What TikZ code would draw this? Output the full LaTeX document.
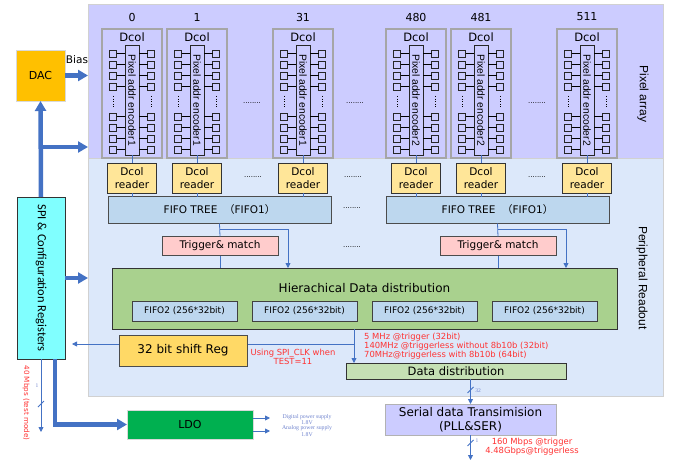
\documentclass[tikz,border=0pt]{standalone}
\usepackage{fontspec}
\setmainfont{DejaVu Sans}
\newfontfamily\calib{Carlito}
\newfontfamily\arialf{Liberation Sans}
\newfontfamily\timesf{Liberation Serif}
\newfontfamily\cjk{Noto Sans CJK SC}
\usetikzlibrary{arrows.meta,positioning}
\newcommand{\fsz}[2]{\fontsize{#1}{#2}\selectfont}
\definecolor{lineblue}{RGB}{68,114,196}
\definecolor{pixbg}{RGB}{204,204,255}
\definecolor{perbg}{RGB}{220,232,250}
\definecolor{readeryellow}{RGB}{255,230,153}
\definecolor{fifoblue}{RGB}{189,215,238}
\definecolor{trigpink}{RGB}{255,204,204}
\definecolor{hdgreen}{RGB}{169,209,142}
\definecolor{ddgreen}{RGB}{197,224,180}
\definecolor{shiftgold}{RGB}{255,217,102}
\definecolor{dacorange}{RGB}{255,192,0}
\definecolor{spicyan}{RGB}{128,255,255}
\definecolor{ldogreen}{RGB}{0,176,80}
\definecolor{notered}{RGB}{255,51,51}
\definecolor{supplyblue}{RGB}{110,130,205}

\begin{document}
\begin{tikzpicture}[x=1pt, y=-1pt,
    blk/.style={draw=black!80, inner sep=0pt, outer sep=0pt, align=center, line width=0.8pt},
    region/.style={draw=black!18, inner sep=0pt, outer sep=0pt, line width=1pt},
    dcolbox/.style={draw=black!35, line width=1.1pt, inner sep=0pt, outer sep=0pt, minimum width=60pt, minimum height=129pt},
    enc/.style={draw=black!85, line width=0.6pt, inner sep=0pt, outer sep=0pt, minimum width=14pt, minimum height=110pt},
    pixsq/.style={draw=black!85, line width=0.6pt, inner sep=0pt, outer sep=0pt, minimum size=7pt},
    reader/.style={blk, fill=readeryellow, minimum width=49pt, minimum height=30pt, font=\fsz{10.5}{12.5}},
    fifotree/.style={blk, draw=black!70, fill=fifoblue, minimum width=223pt, minimum height=27pt, font=\fsz{10.5}{12}},
    trig/.style={blk, draw=black!70, fill=trigpink, minimum width=116pt, minimum height=19pt, font=\fsz{10.5}{12}},
    fifotwo/.style={blk, draw=black!75, fill=fifoblue, minimum width=105pt, minimum height=20pt, font=\fsz{9}{10}},
    gapdots/.style={font=\fsz{7}{7}, inner sep=0pt},
    wire/.style={draw=lineblue, line width=0.8pt},
    wirearrow/.style={wire, -{Triangle[width=5pt,length=5pt]}},
    bus/.style={draw=lineblue, line width=4.5pt},
    busarrow/.style={bus, -{Triangle[width=11pt,length=10pt]}},
    note/.style={text=notered, font=\fsz{8.4}{9}, inner sep=0pt, align=left},
    sidelabel/.style={rotate=-90, font=\arialf\fsz{12}{13}, inner sep=0pt},
  ]
  \useasboundingbox (0,0) rectangle (681,460);

  % Pixel array and peripheral readout areas
  \node[region, fill=pixbg, minimum width=575pt, minimum height=153pt] (pix) at (375.5,81.5) {};
  \node[region, fill=perbg, minimum width=575pt, minimum height=238pt] (per) at (375.5,277) {};
  \node[sidelabel] (pixlabel) at (643,94) {Pixel array};
  \node[sidelabel] (perlabel) at (642,278) {Peripheral Readout};

  % Double columns with their readers
  \foreach \cx/\lab/\n in {132/0/1, 197/1/1, 303/31/1, 416/480/2, 481/481/2, 587/511/2} {
    \node[font=\fsz{11}{12}] (num\lab) at (\cx,17) {\lab};
    \node[dcolbox] (dcol\lab) at (\cx,93.5) {};
    \node[font=\fsz{11.5}{12}, inner sep=0pt] (dname\lab) at (\cx,37) {Dcol};
    \node[enc] (enc\lab) at (\cx,100) {};
    \node[rotate=-90, font=\arialf\fsz{10.3}{11}, inner sep=0pt] (enctext\lab) at (enc\lab) {Pixel addr encoder\n};
    \foreach \y in {53.5,64.5,75.5,86.5,116.5,127.5,138.5,149.5} {
      \node[pixsq] (pl) at (\cx-19,\y) {};
      \node[pixsq] (pr) at (\cx+19,\y) {};
      \draw[line width=0.6pt] (pl.east) -- (pl.east -| enc\lab.west);
      \draw[line width=0.6pt] (pr.west) -- (pr.west -| enc\lab.east);
    }
    \draw[dotted, line width=0.6pt] (\cx-19,96) -- (\cx-19,108);
    \draw[dotted, line width=0.6pt] (\cx+19,96) -- (\cx+19,108);
    \node[reader] (rd\lab) at (\cx,178) {Dcol\\reader};
    \draw[wire] (enc\lab.south) -- (rd\lab.north);
  }
  \node[gapdots] (gapa) at (252,103) {........};
  \node[gapdots] (gapb) at (355,103) {........};
  \node[gapdots] (gapc) at (537,103) {........};
  \node[gapdots] (gapd) at (253,177) {........};
  \node[gapdots] (gape) at (353,177) {........};
  \node[gapdots] (gapf) at (537,177) {........};

  % FIFO trees and trigger matching
  \node[fifotree] (ft1) at (219.5,210) {FIFO TREE\ \ {\cjk （}FIFO1{\cjk ）}};
  \node[fifotree] (ft2) at (497.5,210) {FIFO TREE\ \ {\cjk （}FIFO1{\cjk ）}};
  \node[gapdots] (gapg) at (352,208) {........};
  \foreach \lab/\n in {0/1, 1/1, 31/1, 480/2, 481/2, 511/2}
    \draw[wire] (rd\lab.south) -- (rd\lab.south |- ft\n.north);

  \node[trig] (tg1) at (220,246) {Trigger\& match};
  \node[trig] (tg2) at (498,246) {Trigger\& match};
  \node[gapdots] (gaph) at (352,247) {........};

  % Hierachical data distribution
  \node[blk, fill=hdgreen, minimum width=505pt, minimum height=61pt] (hd) at (364.5,298.5) {};
  \node[font=\fsz{12}{13}, inner sep=0pt] (hdtitle) at (364.5,288) {Hierachical Data distribution};
  \node[fifotwo] (fifoa) at (184.5,311) {FIFO2 (256*32bit)};
  \node[fifotwo] (fifob) at (304.5,311) {FIFO2 (256*32bit)};
  \node[fifotwo] (fifoc) at (424.5,311) {FIFO2 (256*32bit)};
  \node[fifotwo] (fifod) at (544.5,311) {FIFO2 (256*32bit)};

  \draw[wire] (ft1.south) -- (tg1.north);
  \draw[wire] (tg1.south) -- (tg1.south |- hd.north);
  \draw[wire] (ft2.south) -- (tg2.north);
  \draw[wire] (tg2.south) -- (tg2.south |- hd.north);
  \coordinate (bra) at (220,229);
  \coordinate (brae) at (288,229);
  \coordinate (brb) at (498,229);
  \coordinate (brbe) at (566,229);
  \draw[wirearrow] (bra) -- (brae) -- (brae |- hd.north);
  \draw[wirearrow] (brb) -- (brbe) -- (brbe |- hd.north);

  % DAC and configuration
  \node[blk, draw=black!15, fill=dacorange, minimum width=49pt, minimum height=51pt, font=\fsz{11}{12}] (dac) at (40.5,75.5) {DAC};
  \node[font=\fsz{10.5}{12}, inner sep=0pt] (bias) at (77,60) {Bias};
  \node[blk, fill=spicyan, minimum width=48pt, minimum height=162pt] (spi) at (41,278) {};
  \node[rotate=-90, font=\calib\fsz{12.5}{13}, inner sep=0pt] (spitext) at (spi) {SPI \& Configuration Registers};
  \draw[busarrow] (dac.east) -- (dac.east -| pix.west);
  \coordinate (cfgtap) at (41,147);
  \draw[busarrow] (cfgtap) -- (cfgtap -| pix.west);
  \draw[busarrow] (spi.north) -- (dac.south);
  \draw[busarrow] (spi.east) -- (spi.east -| per.west);

  % Readout path to the outside
  \node[blk, fill=ddgreen, minimum width=220pt, minimum height=16pt, font=\fsz{11.5}{12}] (dd) at (456,371) {Data distribution};
  \coordinate (tap) at (354,344);
  \draw[wirearrow, shorten >=7pt] (tap) -- (tap -| spi.east);
  \draw[wirearrow] (hd.south -| tap) -- (dd.north -| tap);
  \node[blk, draw=black!70, fill=shiftgold, minimum width=128pt, minimum height=31pt, font=\fsz{12}{13}] (shreg) at (183,350.5) {32 bit shift Reg};
  \node[note, align=center] (spiclk) at (293,357) {Using SPI\_CLK when\\TEST=11};
  \node[note, anchor=north west] (rates) at (364,332.5) {5 MHz @trigger (32bit)\\140MHz @triggerless without 8b10b (32bit)\\70MHz@triggerless with 8b10b (64bit)};

  \node[blk, draw=black!30, fill=pixbg, minimum width=171pt, minimum height=31pt, font=\fsz{12}{14}] (ser) at (470.5,419.5) {Serial data Transimision\\(PLL\&SER)};
  \draw[wirearrow] (ser.north |- dd.south) -- (ser.north);
  \draw[wire] ([xshift=-3pt,yshift=11pt]ser.north) -- ++(6,-6);
  \node[font=\timesf\fsz{5.5}{5.5}, text=supplyblue, inner sep=0pt] (buswidth) at (478,391) {32};
  \coordinate (serout) at (470.5,460);
  \draw[wirearrow] (ser.south) -- (serout);
  \draw[wire] ([xshift=-3pt,yshift=-11pt]ser.south) -- ++(6,-6);
  \node[font=\timesf\fsz{5.5}{5.5}, text=supplyblue, inner sep=0pt] (serwidth) at (477,441) {1};
  \node[note, align=center] (serrates) at (532,446.5) {160 Mbps @trigger\\4.48Gbps@triggerless};

  % Test output and power
  \coordinate (testout) at (41,432);
  \draw[wirearrow] (spi.south) -- (testout);
  \draw[wire] (38,407) -- (44,401);
  \node[font=\timesf\fsz{5.5}{5.5}, text=supplyblue, inner sep=0pt] (testwidth) at (37,386) {1};
  \node[rotate=-90, text=notered, font=\fsz{7.2}{8}, inner sep=0pt] (testrate) at (26,403) {40 Mbps (test mode)};

  \node[blk, draw=black!15, fill=ldogreen, minimum width=126pt, minimum height=29pt, font=\fsz{11}{12}] (ldo) at (190,424.5) {LDO};
  \draw[busarrow] ([xshift=14pt]spi.south) |- (ldo.west);
  \coordinate (dvdd) at (270,418);
  \coordinate (avdd) at (270,431);
  \draw[wirearrow] (ldo.east |- dvdd) -- (dvdd);
  \draw[wirearrow] (ldo.east |- avdd) -- (avdd);
  \node[text=supplyblue, font=\timesf\fsz{5.8}{6.8}, align=center, inner sep=0pt] (dvddtext) at (307,419.5) {Digital power supply\\1.8V};
  \node[text=supplyblue, font=\timesf\fsz{5.8}{6.8}, align=center, inner sep=0pt] (avddtext) at (307,431) {Analog power supply\\1.8V};
\end{tikzpicture}
\end{document}
